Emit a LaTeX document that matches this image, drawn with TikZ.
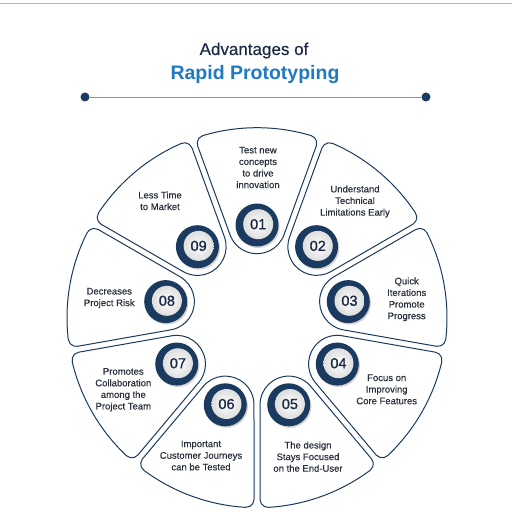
\documentclass[tikz,border=0pt]{standalone}
\usepackage{fontspec}
\setmainfont{Liberation Sans}
\newfontfamily\numfont[FakeBold=1.2]{Liberation Sans}
\newfontfamily\lblfont[FakeBold=0.4]{Liberation Sans}
\usetikzlibrary{shadows}
\definecolor{navy}{HTML}{1B3A5F}
\definecolor{txt}{HTML}{28303C}
\definecolor{titleblue}{HTML}{1F7AC2}
\definecolor{titlenavy}{HTML}{1C2A44}
\begin{document}
\begin{tikzpicture}[x=1pt,y=1pt,
  sector/.style={draw=navy, line width=1pt, fill=white},
  badgering/.style={circle, fill=navy, minimum size=43pt, inner sep=0pt,
    drop shadow={shadow xshift=1.2pt, shadow yshift=-1.5pt, opacity=0.35}},
  badgeface/.style={circle, inner color=white, outer color=black!13, minimum size=30pt,
    inner sep=0pt, font=\numfont\fontsize{14.5}{14.5}\selectfont, text=titlenavy},
  lbl/.style={align=center, font=\lblfont\fontsize{9.5}{11.6}\selectfont, text=txt},
  dotnode/.style={circle, fill=navy, minimum size=9pt, inner sep=0pt}
]
\useasboundingbox (0,0) rectangle (512,512);
\fill[white] (0,0) rectangle (512,512);
\draw[black!30, line width=1pt] (0,508) -- (512,508);

% title
\node[font=\lblfont\fontsize{17}{17}\selectfont, text=titlenavy, anchor=base] (title1) at (254,457) {Advantages of};
\node[font=\bfseries\fontsize{19.5}{19.5}\selectfont, text=titleblue, anchor=base] (title2) at (255,432) {Rapid Prototyping};
\node[dotnode] (dl) at (85,415) {};
\node[dotnode] (dr) at (426,415) {};
\draw[navy!55, line width=0.8pt] (dl) -- (dr);

% sectors
\foreach \k in {1,...,9} {
  \pgfmathsetmacro\ang{90-40*(\k-1)}
  \begin{scope}[shift={(257,194.3)}, rotate=\ang]
    \draw[sector] (82.88,26.97) -- (171.73,59.32)
      arc[start angle=110, end angle=16.535, radius=8]
      arc[start angle=16.535, end angle=-16.535, radius=190]
      arc[start angle=-16.535, end angle=-110, radius=8]
      -- (82.88,-26.97)
      arc[start angle=250, end angle=110, radius=28.7] -- cycle;
  \end{scope}
}

% badges
\foreach \k in {1,...,9} {
  \pgfmathsetmacro\ang{90-40*(\k-1)}
  \begin{scope}[shift={(257,194.3)}]
    \node[badgering] (r\k) at (\ang:92.7) {};
    \node[badgeface] (b\k) at ([shift={(1.2,0.8)}]r\k.center) {0\k};
  \end{scope}
}

% labels
\node[lbl] (t1) at (258,344.5) {Test new\\concepts\\to drive\\innovation};
\node[lbl] (t2) at (355,310.5) {Understand\\Technical\\Limitations Early};
\node[lbl] (t3) at (406.7,212.7) {Quick\\Iterations\\Promote\\Progress};
\node[lbl] (t4) at (386.7,122.6) {Focus on\\Improving\\Core Features};
\node[lbl] (t5) at (308,55.3) {The design\\Stays Focused\\on the End-User};
\node[lbl] (t6) at (201,56.5) {Important\\Customer Journeys\\can be Tested};
\node[lbl] (t7) at (123.3,122.2) {Promotes\\Collaboration\\among the\\Project Team};
\node[lbl] (t8) at (109.3,214) {Decreases\\Project Risk};
\node[lbl] (t9) at (160,311.2) {Less Time\\to Market};
\end{tikzpicture}
\end{document}
